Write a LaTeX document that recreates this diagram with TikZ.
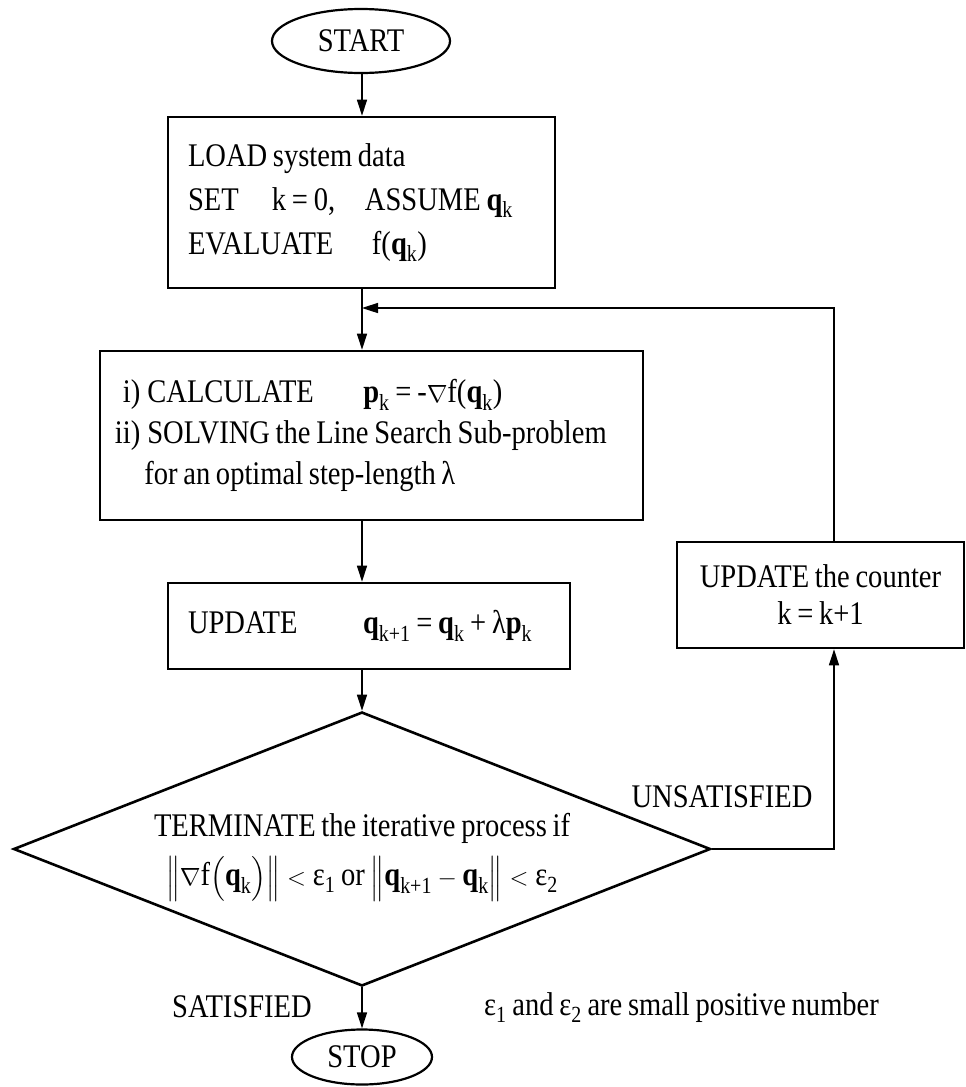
\documentclass[tikz,border=0pt]{standalone}
\usepackage{fontspec}
\usepackage{amsmath}
\setmainfont{Liberation Serif}[FakeStretch=0.865,WordSpace=0.8]
\usetikzlibrary{shapes.geometric,arrows.meta}
\newcommand\qb{\textbf{q}}
\newcommand\pb{\textbf{p}}
\begin{document}
\begin{tikzpicture}[x=1pt,y=-1pt,
  every node/.style={font=\fontsize{33}{38}\selectfont},
  proc/.style={draw, line width=2.6pt, rectangle, inner sep=0pt},
  term/.style={draw, line width=2.2pt, ellipse, inner sep=0pt},
  flow/.style={line width=1.6pt, -{Triangle[length=16pt,width=10pt]}},
  lbl/.style={inner sep=0pt}]
\useasboundingbox (0,0) rectangle (966,1087);
\fill[white] (0,0) rectangle (966,1087);
\coordinate (axis) at (362,0);
\coordinate (rx) at (834,0);
\coordinate (loopin) at (362,308);

\node[term, minimum width=178pt, minimum height=64pt] (start) at (361,41) {START};

\node[proc, minimum width=387pt, minimum height=171pt, text width=347pt, inner xsep=20pt, align=flush left,
  font=\fontsize{33}{44}\selectfont] (load) at (361.5,202.5)
  {LOAD system data\\
   \mbox{\makebox[84pt][l]{SET}\makebox[93pt][l]{k = 0,}ASSUME \qb\textsubscript{k}}\\
   \mbox{\makebox[184pt][l]{EVALUATE}f(\qb\textsubscript{k})}};

\node[proc, minimum width=543pt, minimum height=169pt, text width=513pt, inner xsep=15pt, align=flush left,
  font=\fontsize{33}{41}\selectfont] (calc) at (371.5,435.5)
  {\begin{tabular}{@{}r@{\hspace{7pt}}l@{}}
   i) & \makebox[216pt][l]{CALCULATE}\pb\textsubscript{k} = -$\nabla$f(\qb\textsubscript{k})\\
   ii) & SOLVING the Line Search Sub-problem\\
       & \hspace*{-3pt}for an optimal step-length λ
   \end{tabular}};

\node[proc, minimum width=402pt, minimum height=86pt, text width=362pt, inner xsep=20pt, align=flush left] (upd) at (369,626)
  {\mbox{\makebox[175pt][l]{UPDATE}\qb\textsubscript{k+1} = \qb\textsubscript{k} + λ\pb\textsubscript{k}}};

\node[proc, minimum width=287pt, minimum height=106pt, align=center,
  font=\fontsize{33}{37}\selectfont] (cnt) at (820.5,595)
  {UPDATE the counter\\k = k+1};

\node[draw, diamond, line width=2.6pt, aspect=2.54, minimum width=697pt, minimum height=274pt,
  inner sep=0pt, align=center, font=\fontsize{33}{49}\selectfont] (dec) at (362,849)
  {\rule{0pt}{40pt}TERMINATE the iterative process if\\
   $\Bigl\|\nabla\text{f}\Bigl(\qb_{\text{k}}\Bigr)\Bigr\| < \text{ε}_{\text{1}}$ or
   $\Bigl\|\qb_{\text{k+1}} - \qb_{\text{k}}\Bigr\| < \text{ε}_{\text{2}}$};

\node[term, minimum width=140pt, minimum height=55pt] (stop) at (362,1057) {STOP};

\node[lbl] (uns) at (722,797) {UNSATISFIED};
\node[lbl] (sat) at (242,1007) {SATISFIED};
\node[lbl, anchor=west] (note) at (484,1008) {ε\textsubscript{1} and ε\textsubscript{2} are small positive number};

\draw[flow] (axis |- start.south) -- (axis |- load.north);
\draw[flow] (axis |- load.south) -- (axis |- calc.north);
\draw[flow] (axis |- calc.south) -- (axis |- upd.north);
\draw[flow] (axis |- upd.south) -- (dec.north);
\draw[flow] (dec.south) -- (stop.north);
\draw[flow] (rx |- cnt.north) |- (loopin);
\draw[flow] (dec.east) -| (rx |- cnt.south);
\end{tikzpicture}
\end{document}
